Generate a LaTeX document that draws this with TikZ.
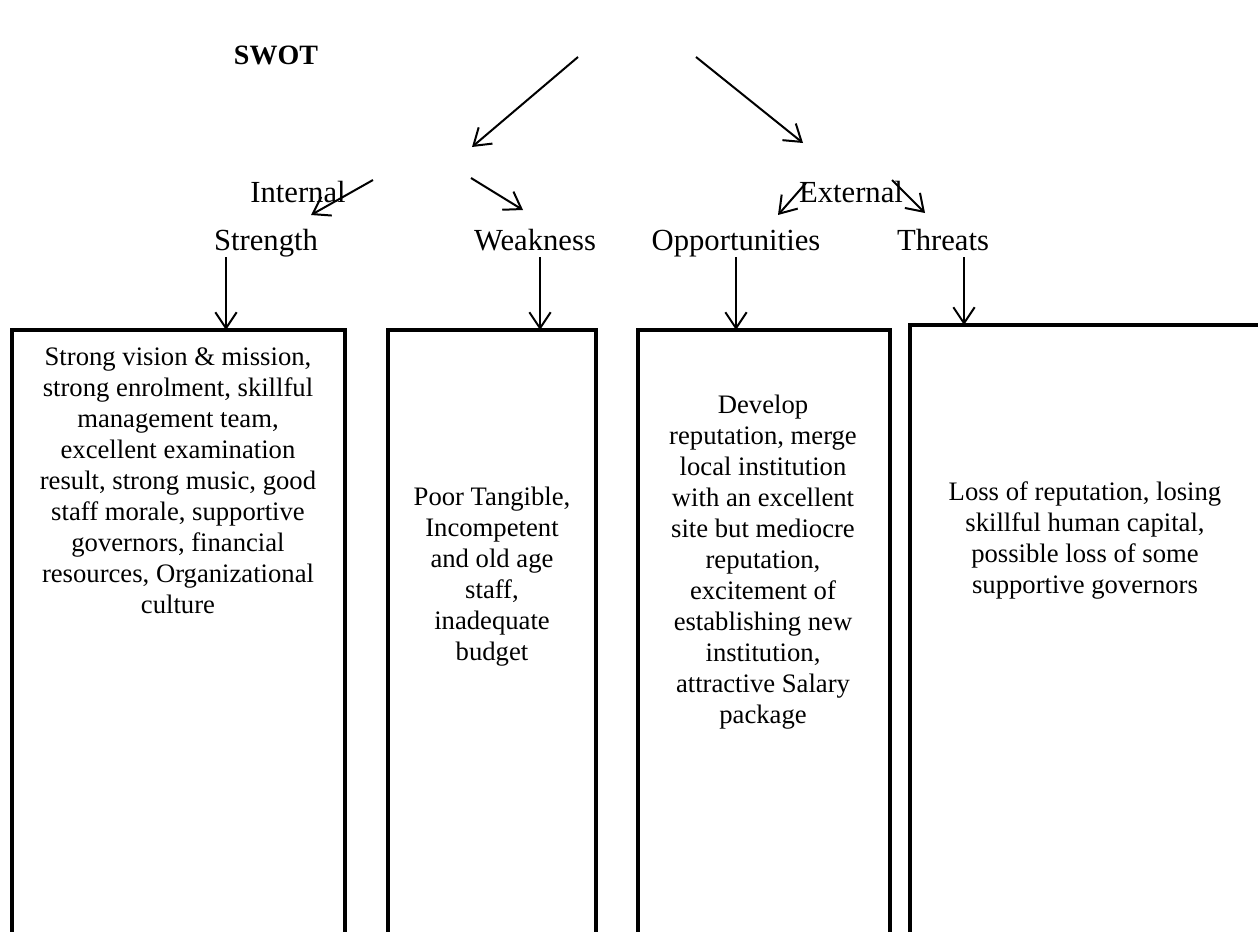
\documentclass[tikz,border=0pt]{standalone}
\usepackage{fontspec}
\setmainfont{Liberation Serif}
\usetikzlibrary{arrows.meta}
\tikzset{
  heading/.style={font=\fontsize{21}{25}\selectfont\bfseries, inner sep=0pt, anchor=base},
  lbl/.style={font=\fontsize{23}{27}\selectfont, inner sep=0pt, anchor=base},
  arr/.style={-{Straight Barb[length=12pt,width=16pt]}, line width=1.5pt},
  column/.style={line width=3.5pt},
  boxtext/.style={font=\fontsize{20}{23.25}\selectfont, align=center, inner sep=0pt}
}
\begin{document}
\begin{tikzpicture}[x=0.75pt,y=-0.75pt]
    \useasboundingbox (0,0) rectangle (1258,932);
    \clip (0,0) rectangle (1258,932);
    % headings
    \node[heading] (swot) at (276,64) {SWOT};
    \node[lbl] (internal) at (298,202) {Internal};
    \node[lbl] (external) at (851,202) {External};
    \node[lbl] (strength) at (266,250) {Strength};
    \node[lbl] (weakness) at (535,250) {Weakness};
    \node[lbl] (opport) at (736,250) {Opportunities};
    \node[lbl] (threats) at (943,250) {Threats};
    % arrow ends
    \coordinate (swotL) at (578,57);
    \coordinate (swotR) at (696,57);
    \coordinate (intTip) at (472,147);
    \coordinate (extTip) at (803,143);
    \coordinate (intL) at (373,180);
    \coordinate (intR) at (471,178);
    \coordinate (extL) at (806,183);
    \coordinate (extR) at (892,180);
    \coordinate (sTip) at (311,215);
    \coordinate (wTip) at (523,210);
    \coordinate (oTip) at (778,215);
    \coordinate (tTip) at (925,213);
    \coordinate (sDown) at (226,257);
    \coordinate (wDown) at (540,257);
    \coordinate (oDown) at (736,257);
    \coordinate (tDown) at (964,257);
    % columns
    \draw[column] (12,950) -- (12,330) coordinate (sBox) -- (345,330) -- (345,950);
    \draw[column] (388,950) -- (388,330) coordinate (wBox) -- (596,330) -- (596,950);
    \draw[column] (638,950) -- (638,330) coordinate (oBox) -- (890,330) -- (890,950);
    \draw[column] (910,950) -- (910,325) coordinate (tBox) -- (1270,325);
    % arrows
    \draw[arr] (swotL) -- (intTip);
    \draw[arr] (swotR) -- (extTip);
    \draw[arr] (intL) -- (sTip);
    \draw[arr] (intR) -- (wTip);
    \draw[arr] (extL) -- (oTip);
    \draw[arr] (extR) -- (tTip);
    \draw[arr] (sDown) -- (sDown |- sBox);
    \draw[arr] (wDown) -- (wDown |- wBox);
    \draw[arr] (oDown) -- (oDown |- oBox);
    \draw[arr] (tDown) -- (tDown |- tBox);
    % column texts
    \node[boxtext] (sText) at (178,481) {Strong vision \& mission,\\strong enrolment, skillful\\management team,\\excellent examination\\result, strong music, good\\staff morale, supportive\\governors, financial\\resources, Organizational\\culture};
    \node[boxtext] (wText) at (492,577) {Poor Tangible,\\Incompetent\\and old age\\staff,\\inadequate\\budget};
    \node[boxtext] (oText) at (763,562) {Develop\\reputation, merge\\local institution\\with an excellent\\site but mediocre\\reputation,\\excitement of\\establishing new\\institution,\\attractive Salary\\package};
    \node[boxtext] (tText) at (1085,540) {Loss of reputation, losing\\skillful human capital,\\possible loss of some\\supportive governors};
\end{tikzpicture}
\end{document}
